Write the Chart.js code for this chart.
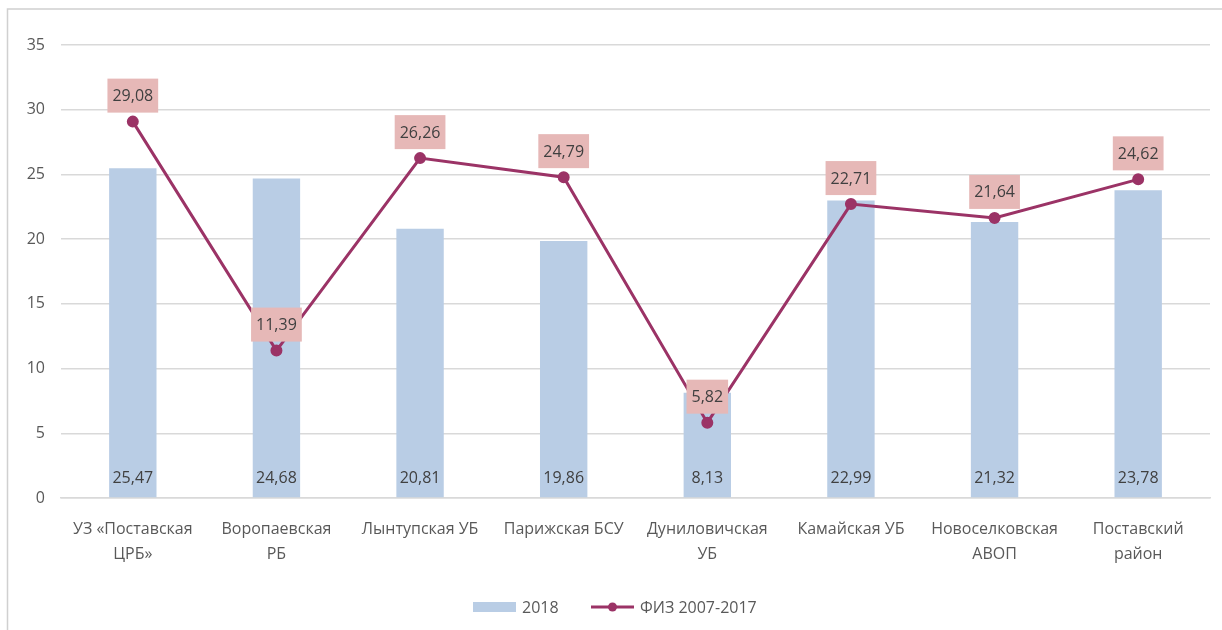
<!DOCTYPE html>
<html><head><meta charset="utf-8">
<script src="https://cdn.jsdelivr.net/npm/chart.js@4"></script>
<style>html,body{margin:0;padding:0;background:#fff}#w{width:1222px;height:630px}</style>
</head><body><div id="w"><canvas id="c" width="1222" height="630"></canvas></div>
<script>
const categories = [["УЗ «Поставская","ЦРБ»"],["Воропаевская","РБ"],"Лынтупская УБ","Парижская БСУ",["Дуниловичская","УБ"],"Камайская УБ",["Новоселковская","АВОП"],["Поставский","район"]];
const bars2018 = [25.47,24.68,20.81,19.86,8.13,22.99,21.32,23.78];
const fiz = [29.08,11.39,26.26,24.79,5.82,22.71,21.64,24.62];
const yTicks = [0,5,10,15,20,25,30,35];
const seriesNames = ["2018","ФИЗ 2007-2017"];

const BAR = '#b9cde5', LINE = '#9b3366', LBLBG = '#e6b8b7', TXT = '#404040';
const FONT = "'Open Sans', 'Noto Sans', sans-serif";
const fmt = v => v.toFixed(2).replace('.', ',');

const extras = {
  id: 'extras',
  beforeDraw(chart) {
    const ctx = chart.ctx;
    ctx.save();
    ctx.strokeStyle = '#d0d0d0'; ctx.lineWidth = 1.5;
    ctx.beginPath(); ctx.moveTo(7.5, 640); ctx.lineTo(7.5, 9); ctx.lineTo(1230, 9); ctx.stroke();
    ctx.restore();
  },
  afterDatasetsDraw(chart) {
    const ctx = chart.ctx;
    ctx.save();
    ctx.font = "16px " + FONT;
    ctx.textAlign = 'center'; ctx.textBaseline = 'middle';
    const mb = chart.getDatasetMeta(0);
    mb.data.forEach((el, i) => {
      ctx.fillStyle = TXT;
      ctx.fillText(fmt(bars2018[i]), el.x, chart.scales.y.bottom - 20);
    });
    const ml = chart.getDatasetMeta(1);
    ml.data.forEach((el, i) => {
      const t = fmt(fiz[i]);
      const w = ctx.measureText(t).width + 10, h = 34;
      const bx = el.x - w / 2, by = el.y - 9 - h;
      ctx.fillStyle = LBLBG; ctx.fillRect(bx, by, w, h);
      ctx.fillStyle = TXT; ctx.fillText(t, el.x, by + h / 2 + 1);
    });
    // legend
    const ly = 607;
    ctx.fillStyle = BAR; ctx.fillRect(473, ly - 5, 43, 10);
    ctx.fillStyle = '#595959'; ctx.textAlign = 'left';
    ctx.fillText(seriesNames[0], 522, ly + 1);
    ctx.strokeStyle = LINE; ctx.lineWidth = 3;
    ctx.beginPath(); ctx.moveTo(591, ly); ctx.lineTo(634, ly); ctx.stroke();
    ctx.fillStyle = LINE; ctx.beginPath(); ctx.arc(612.5, ly, 4.5, 0, Math.PI * 2); ctx.fill();
    ctx.fillStyle = '#595959';
    ctx.fillText(seriesNames[1], 640, ly + 1);
    ctx.restore();
  }
};

new Chart(document.getElementById('c'), {
  data: {
    labels: categories,
    datasets: [
      { type: 'bar', label: seriesNames[0], data: bars2018, backgroundColor: BAR, barPercentage: 0.66, categoryPercentage: 0.5, order: 2 },
      { type: 'line', label: seriesNames[1], data: fiz, borderColor: LINE, backgroundColor: LINE, borderWidth: 3, pointRadius: 4.5, pointHoverRadius: 4.5, tension: 0, order: 1 }
    ]
  },
  options: {
    responsive: false, animation: false,
    layout: { padding: { left: 0, right: 12, top: 45, bottom: 40 } },
    plugins: { legend: { display: false }, tooltip: { enabled: false } },
    scales: {
      x: {
        grid: { display: false },
        border: { color: '#d9d9d9', width: 1.5 },
        ticks: { color: '#595959', font: { size: 16, family: FONT, lineHeight: 1.55 }, padding: 11, maxRotation: 0, autoSkip: false },
        afterFit(s) { s.height = 92; }
      },
      y: {
        min: 0, max: 35,
        afterBuildTicks(s) { s.ticks = yTicks.map(v => ({ value: v })); },
        grid: { color: '#d9d9d9', lineWidth: 1.5, drawTicks: false },
        border: { display: false },
        ticks: { color: '#595959', font: { size: 16, family: FONT }, padding: 16 },
        afterFit(s) { s.width = 61; }
      }
    }
  },
  plugins: [extras]
});
</script></body></html>
